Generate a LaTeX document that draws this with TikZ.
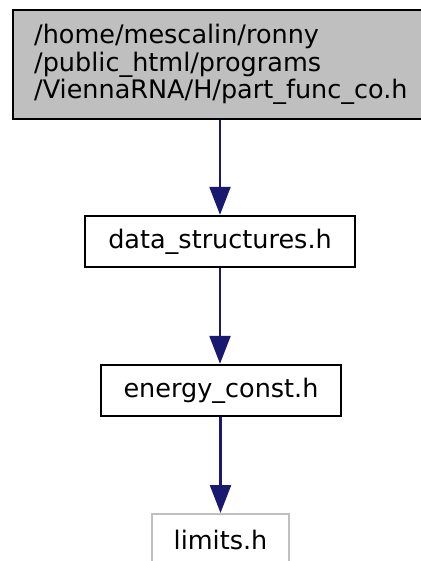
\documentclass[tikz,border=0pt]{standalone}
\usepackage{fontspec}
\setmainfont{DejaVu Sans}
\usetikzlibrary{arrows.meta}
\definecolor{edgeblue}{HTML}{191970}
\definecolor{boxgray}{HTML}{BFBFBF}
\tikzset{
  filebox/.style={draw=black, line width=2.4pt, fill=white, rectangle, inner sep=0pt,
    minimum height=51pt, font=\fontsize{25.5}{27.5}\selectfont},
  dep/.style={draw=edgeblue, line width=2.4pt, -{Triangle[length=28pt,width=21pt]}, color=edgeblue},
}
\begin{document}
\begin{tikzpicture}[x=1pt,y=-1pt]
\useasboundingbox (0,0) rectangle (420,561);
\node[filebox, fill=boxgray, minimum width=409pt, minimum height=109pt, text width=367pt,
  inner xsep=21pt, align=left, anchor=north west] (top) at (12,9)
  {/home/mescalin/ronny\\/public\_html/programs\\/ViennaRNA/H/part\_func\_co.h};
\node[filebox, minimum width=270pt] (ds) at (220,241.5) {data\_structures.h};
\node[filebox, minimum width=240pt] (ec) at (221,390.5) {energy\_const.h};
\node[filebox, draw=boxgray, minimum width=137pt, anchor=north] (lim) at (220.5,513) {limits.h};
\draw[dep] (top.south -| ds.north) -- (ds.north);
\draw[dep] (ds.south) -- (ds.south |- ec.north);
\draw[dep] (ec.south -| lim.north) -- (lim.north);
\end{tikzpicture}
\end{document}
